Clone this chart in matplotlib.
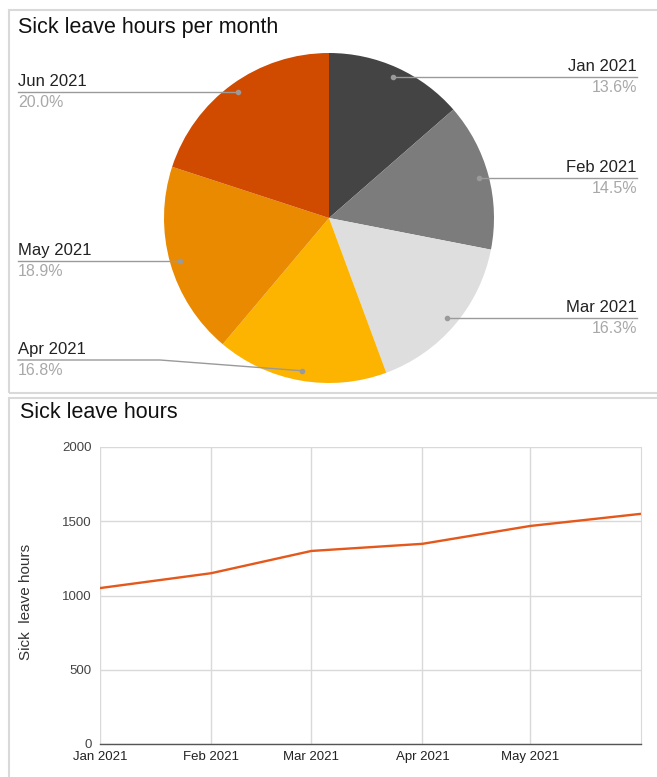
import numpy as np
import matplotlib
matplotlib.use("Agg")
import matplotlib.pyplot as plt
import matplotlib.dates as mdates
from matplotlib.patches import Rectangle
import datetime as dt

plt.rcParams['font.family'] = ['Liberation Sans', 'DejaVu Sans']

# ---- data ----
months = ["Jan 2021", "Feb 2021", "Mar 2021", "Apr 2021", "May 2021", "Jun 2021"]
pie_share = [13.6, 14.5, 16.3, 16.8, 18.9, 20.0]
pie_colors = ["#444444", "#7c7c7c", "#dedede", "#fdb400", "#e98a00", "#d04a00"]
line_dates = [dt.date(2021, 1, 1), dt.date(2021, 2, 1), dt.date(2021, 3, 1),
              dt.date(2021, 4, 1), dt.date(2021, 5, 1), dt.date(2021, 6, 1)]
line_hours = [1050, 1150, 1300, 1348, 1468, 1550]
x_tick_labels = ["Jan 2021", "Feb 2021", "Mar 2021", "Apr 2021", "May 2021"]
y_ticks = [0, 500, 1000, 1500, 2000]

W, H = 657, 777
fig = plt.figure(figsize=(W / 100, H / 100), dpi=100)
fig.patch.set_facecolor("white")

def fx(x):
    return x / W

def fy(y):
    return 1 - y / H

# panel borders
fig.patches.append(Rectangle((fx(9), fy(393)), fx(660) - fx(9), fy(10) - fy(393),
                             transform=fig.transFigure, fill=False,
                             edgecolor="#d9d9d9", lw=1.5))
fig.patches.append(Rectangle((fx(9), fy(780)), fx(660) - fx(9), fy(398) - fy(780),
                             transform=fig.transFigure, fill=False,
                             edgecolor="#d9d9d9", lw=1.5))

# ---- pie ----
cx, cy, R = 329, 218, 165
axp = fig.add_axes([fx(cx - R), fy(cy + R), (2 * R) / W, (2 * R) / H])
wedges, _ = axp.pie(pie_share, colors=pie_colors, startangle=90, counterclock=False,
                    radius=1.0, wedgeprops=dict(linewidth=0))
axp.set_xlim(-1, 1)
axp.set_ylim(-1, 1)
axp.set_aspect("auto")
axp.axis("off")

fig.text(fx(18), fy(28), "Sick leave hours per month", fontsize=15.5,
         color="#111111", va="center", ha="left")

inv = fig.transFigure.inverted()
total = sum(pie_share)
cum = 0.0
for name, share in zip(months, pie_share):
    mid = 90 - 360 * (cum + share / 2) / total
    cum += share
    a = np.deg2rad(mid)
    dx, dy = 0.94 * np.cos(a), 0.94 * np.sin(a)
    disp = axp.transData.transform((dx, dy))
    px, py = inv.transform(disp)
    right = dx > 0
    ly = py if right else max(py, fy(360))
    if right:
        xe = fx(637)
        fig.add_artist(plt.Line2D([px, xe], [py, py], transform=fig.transFigure,
                                  color="#9a9a9a", lw=1.0))
        tx, ha = xe, "right"
    else:
        xs = fx(18)
        if abs(ly - py) > 1e-6:
            kx = fx(160)
            fig.add_artist(plt.Line2D([xs, kx, px], [ly, ly, py], transform=fig.transFigure,
                                      color="#9a9a9a", lw=1.0))
        else:
            fig.add_artist(plt.Line2D([xs, px], [ly, ly], transform=fig.transFigure,
                                      color="#9a9a9a", lw=1.0))
        tx, ha = xs, "left"
    fig.add_artist(plt.Line2D([px], [py], transform=fig.transFigure, marker="o",
                              markersize=3, color="#9a9a9a", lw=0))
    fig.text(tx, ly + 3 / H, name, fontsize=12, color="#222222", ha=ha, va="bottom")
    fig.text(tx, ly - 3 / H, f"{share:.1f}%", fontsize=11.5, color="#a8a8a8", ha=ha, va="top")

# ---- line chart ----
axl = fig.add_axes([fx(100), fy(744), (641 - 100) / W, (744 - 447) / H])
xd = mdates.date2num(line_dates)
axl.plot(xd, line_hours, color="#e4581b", lw=1.7, solid_capstyle="round")
axl.set_xlim(xd[0], xd[-1])
axl.set_ylim(0, 2000)
axl.set_yticks(y_ticks)
axl.set_yticklabels([str(v) for v in y_ticks], fontsize=9.5, color="#444444")
axl.set_xticks(xd[:5])
axl.set_xticklabels(x_tick_labels, fontsize=9.5, color="#222222")
axl.tick_params(length=0, pad=6)
axl.tick_params(axis="x", pad=5)
axl.grid(True, color="#d9d9d9", lw=1.0)
axl.set_axisbelow(True)
for s in ["top", "left"]:
    axl.spines[s].set_visible(False)
axl.spines["right"].set_color("#d9d9d9")
axl.spines["bottom"].set_color("#555555")
axl.spines["bottom"].set_linewidth(1.0)
axl.set_ylabel("Sick  leave hours", fontsize=11, color="#333333")
axl.yaxis.set_label_coords((33 - 100) / 541, 0.48)

fig.text(fx(20), fy(412), "Sick leave hours", fontsize=15.5, color="#111111",
         va="center", ha="left")

fig.savefig("out.png", dpi=100)
